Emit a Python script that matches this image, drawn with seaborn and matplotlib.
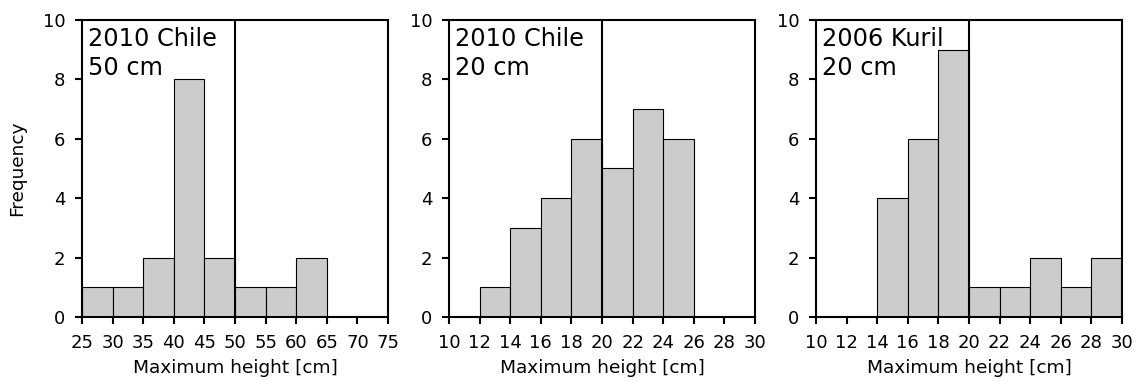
import numpy as np
import pandas as pd
import matplotlib
matplotlib.use("Agg")
import matplotlib.pyplot as plt
import seaborn as sns

# Panel 1: 2010 Chile, 50 cm
edges1 = [25, 30, 35, 40, 45, 50, 55, 60, 65, 70, 75]
counts1 = [1, 1, 2, 8, 2, 1, 1, 2, 0, 0]
# Panel 2: 2010 Chile, 20 cm
edges2 = [10, 12, 14, 16, 18, 20, 22, 24, 26, 28, 30]
counts2 = [0, 1, 3, 4, 6, 5, 7, 6, 0, 0]
# Panel 3: 2006 Kuril, 20 cm
edges3 = [10, 12, 14, 16, 18, 20, 22, 24, 26, 28, 30]
counts3 = [0, 0, 4, 6, 9, 1, 1, 2, 1, 2]

labels = ["2010 Chile\n50 cm", "2010 Chile\n20 cm", "2006 Kuril\n20 cm"]
thresholds = [50, 20, 20]

sns.set_style("ticks")
plt.rcParams['font.family'] = ['DejaVu Sans']
plt.rcParams['text.color'] = 'black'
plt.rcParams['axes.labelcolor'] = 'black'

fig = plt.figure(figsize=(11.36, 3.82), dpi=100)
lefts = [0.0722, 0.3953, 0.7183]
w = 0.2694
b = 0.170
h = 0.778

panels = [(edges1, counts1), (edges2, counts2), (edges3, counts3)]
for i, ((edges, counts), lab, thr) in enumerate(zip(panels, labels, thresholds)):
    ax = fig.add_axes([lefts[i], b, w, h])
    centers = [(edges[k] + edges[k + 1]) / 2 for k in range(len(counts))]
    df = pd.DataFrame({"x": centers, "w": counts})
    sns.histplot(data=df, x="x", weights="w", bins=edges, ax=ax,
                 color="#cccccc", edgecolor="black", linewidth=0.8, alpha=1)
    ax.axvline(thr, color="black", linewidth=1.5)
    ax.set_xlim(edges[0], edges[-1])
    ax.set_ylim(0, 10)
    ax.set_xticks(edges)
    ax.set_yticks([0, 2, 4, 6, 8, 10])
    ax.tick_params(axis="both", labelsize=13, length=5, width=1.5,
                   colors="black", pad=7)
    for s in ax.spines.values():
        s.set_visible(True)
        s.set_linewidth(1.5)
        s.set_color("black")
    ax.set_xlabel("Maximum height [cm]", fontsize=13.3, labelpad=5)
    if i == 0:
        ax.set_ylabel("Frequency", fontsize=13.3, labelpad=12)
    else:
        ax.set_ylabel("")
    ax.text(0.02, 0.975, lab, transform=ax.transAxes, ha="left", va="top",
            fontsize=17.3, linespacing=1.25)

fig.savefig("out.png", dpi=100)
